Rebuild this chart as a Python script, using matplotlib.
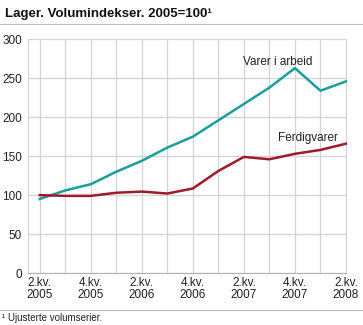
import numpy as np
import matplotlib.pyplot as plt

quarters = ["2.kv.\n2005", "3.kv.\n2005", "4.kv.\n2005", "1.kv.\n2006", "2.kv.\n2006",
            "3.kv.\n2006", "4.kv.\n2006", "1.kv.\n2007", "2.kv.\n2007", "3.kv.\n2007",
            "4.kv.\n2007", "1.kv.\n2008", "2.kv.\n2008"]
varer_i_arbeid = [95, 106, 114, 130, 144, 161, 175, 196, 217, 238, 263, 234, 246]
ferdigvarer = [100, 99, 99, 103, 104.5, 102, 108.5, 131, 149, 146, 153, 158, 166]
yticks = [0, 50, 100, 150, 200, 250, 300]

teal = "#1a9e9b"
red = "#9e1c2a"
grid = "#d2d2da"
plt.rcParams['font.family'] = ['Liberation Sans', 'DejaVu Sans']

fig = plt.figure(figsize=(3.63, 3.25), dpi=100)
ax = fig.add_axes([27.5 / 363, 1 - 273 / 325, (346.5 - 27.5) / 363, (273 - 39.3) / 325])

x = np.arange(len(quarters))
ax.plot(x, varer_i_arbeid, color=teal, lw=1.8, solid_joinstyle="round")
ax.plot(x, ferdigvarer, color=red, lw=1.8, solid_joinstyle="round")

ax.set_xlim(-0.48, 12.02)
ax.set_ylim(0, 300)
ax.set_yticks(yticks)
ax.set_xticks(x)
ax.set_xticklabels([q if i % 2 == 0 else "" for i, q in enumerate(quarters)],
                   linespacing=1.0)
ax.grid(True, color=grid, lw=0.9)
ax.set_axisbelow(True)
ax.tick_params(length=0, labelsize=8.5, colors="#222222")
ax.tick_params(axis="x", pad=3)
ax.tick_params(axis="y", pad=4)
for s in ["top", "right"]:
    ax.spines[s].set_visible(False)
ax.spines["left"].set_color(grid)
ax.spines["bottom"].set_color("#b0b0b8")

ax.text(10.7, 267, "Varer i arbeid", fontsize=8.5, ha="right", va="baseline", color="#222222")
ax.text(11.7, 169, "Ferdigvarer", fontsize=8.5, ha="right", va="baseline", color="#222222")

fig.text(5 / 363, 1 - 14 / 325, "Lager. Volumindekser. 2005=100\u00b9", fontsize=9.5,
         fontweight="bold", va="center", ha="left", color="#111111")
fig.add_artist(plt.Line2D([0, 1], [1 - 24 / 325, 1 - 24 / 325], color="#bbbbbb", lw=0.8))
fig.add_artist(plt.Line2D([0, 1], [1 - 310 / 325, 1 - 310 / 325], color="#bbbbbb", lw=0.8))
fig.text(2 / 363, 1 - 318 / 325, "\u00b9 Ujusterte volumserier.", fontsize=7, va="center",
         ha="left", color="#222222")

fig.savefig("out.png", dpi=100)
